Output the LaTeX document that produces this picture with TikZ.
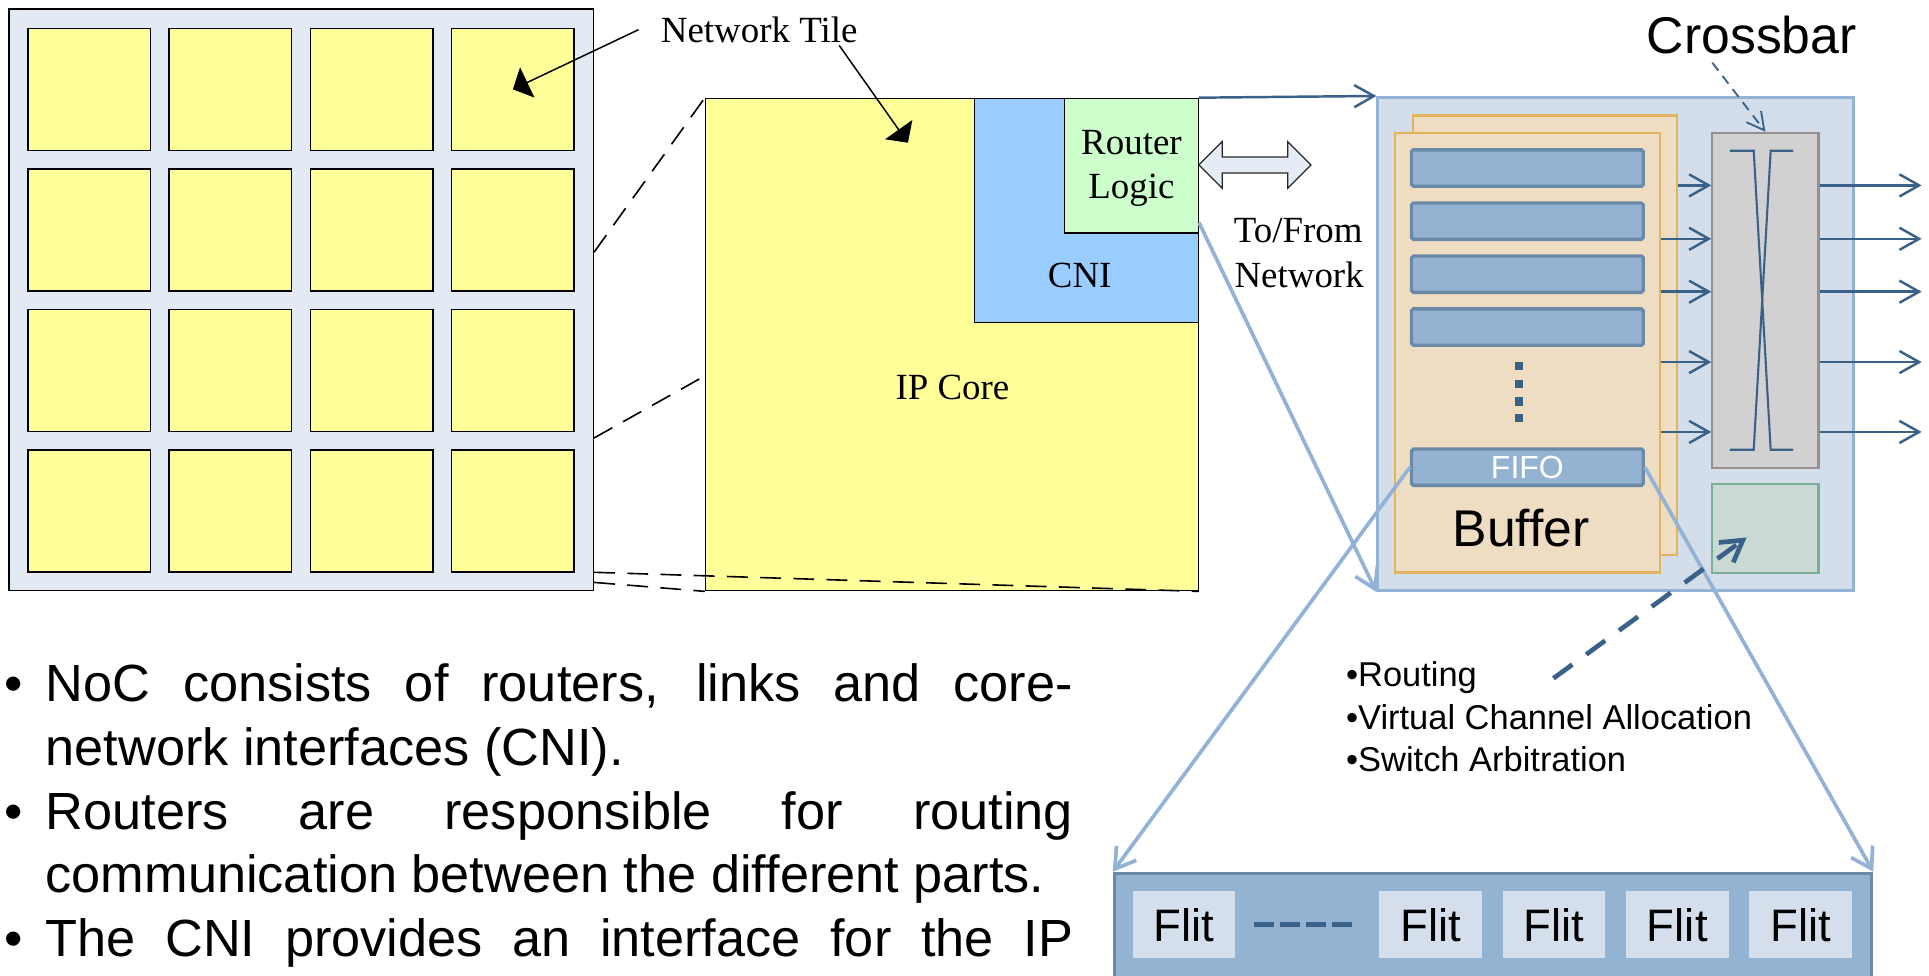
\documentclass[tikz,border=0pt]{standalone}
\usepackage{fontspec}
\setmainfont{Liberation Serif}
\setsansfont{Liberation Sans}
\usetikzlibrary{arrows.meta, positioning, shapes.arrows}

\definecolor{gridbg}{HTML}{E4EAF4}
\definecolor{tileyel}{HTML}{FFFF99}
\definecolor{cniblue}{HTML}{99CCFF}
\definecolor{rlgreen}{HTML}{CCFFCC}
\definecolor{navy}{HTML}{3A6188}
\definecolor{paleblue}{HTML}{93B3D6}
\definecolor{routerbg}{HTML}{D3DEEA}
\definecolor{bufbg}{HTML}{EEDDC3}
\definecolor{bufline}{HTML}{E2B45C}
\definecolor{fifobg}{HTML}{94B3D3}
\definecolor{fifoline}{HTML}{6A8AA8}
\definecolor{xbarbg}{HTML}{D2D1D1}
\definecolor{xbarline}{HTML}{978E8E}
\definecolor{ctrlbg}{HTML}{CAD9D3}
\definecolor{ctrlline}{HTML}{7BAE99}
\definecolor{flitbg}{HTML}{D5DFEB}
\definecolor{linkbg}{HTML}{E6ECF5}

\begin{document}
\begin{tikzpicture}[
        x=1pt, y=-1pt,
        serif/.style={font=\rmfamily\fontsize{30}{36}\selectfont, inner sep=0pt},
        body/.style={font=\sffamily\fontsize{42.5}{51}\selectfont, inner sep=0pt, anchor=base west},
        small/.style={font=\sffamily\fontsize{28}{34}\selectfont, inner sep=0pt, anchor=base west},
        big/.style={font=\sffamily\fontsize{42}{50}\selectfont, inner sep=0pt},
        part/.style={rectangle, draw=black, line width=1.2pt, inner sep=0pt},
        tile/.style={part, fill=tileyel, minimum width=99.5pt, minimum height=99.2pt},
        bufbox/.style={rectangle, draw=bufline, line width=1.8pt, fill=bufbg, minimum width=215pt, minimum height=357.5pt},
        bar/.style={rectangle, draw=fifoline, line width=2.7pt, fill=fifobg, rounded corners=1.5pt, minimum width=188.3pt, minimum height=29.6pt, inner sep=0pt},
        flit/.style={rectangle, fill=flitbg, minimum width=83.3pt, minimum height=54.7pt, inner sep=0pt, font=\sffamily\fontsize{37}{44}\selectfont},
        link/.style={double arrow, draw=black!85, line width=1pt, fill=linkbg, minimum height=91.2pt, minimum width=37pt, double arrow head extend=12.5pt, inner sep=6pt},
        zoomline/.style={draw=black, line width=1.3pt, dash pattern=on 17pt off 10pt},
        callout/.style={draw=black, line width=1.2pt, -{Triangle[length=13pt,width=27pt]}},
        flow/.style={draw=navy, line width=2pt, -{Straight Barb[length=16pt,width=18pt]}},
        pale/.style={draw=paleblue, line width=3pt, -{Straight Barb[length=16pt,width=20pt]}}
    ]
        \useasboundingbox (0,0) rectangle (1568,793);
        \clip (0,0) rectangle (1568,793);

        % mesh of network tiles
        \node[part, fill=gridbg, minimum width=474.8pt, minimum height=472.6pt] (grid) at (244.9,243.8) {};
        \foreach \r in {0,...,3}
            \foreach \c in {0,...,3}
                \node[tile] (t-\r-\c) at (72.45+114.8*\c, 72.6+114.2*\r) {};

        % enlarged tile
        \node[part, fill=tileyel, minimum width=400.4pt, minimum height=400.1pt] (ipcore) at (773.8,280.05) {};
        \node[part, fill=cniblue, minimum width=181.7pt, minimum height=182.1pt] (cni) at (883.15,171.05) {};
        \node[part, fill=rlgreen, minimum width=108.8pt, minimum height=109.3pt] (rl) at (919.6,134.65) {};
        \node[serif, anchor=base] (iplabel) at (774.2,325) {IP Core};
        \node[serif, anchor=base] (cnilabel) at (877.6,233.7) {CNI};
        \node[serif, anchor=base] (rl1) at (919.7,125.5) {Router};
        \node[serif, anchor=base] (rl2) at (919.7,161.2) {Logic};

        \draw[zoomline] (grid.east |- 0,205) -- (ipcore.north west);
        \draw[zoomline] (grid.east |- 0,356) -- (ipcore.west |- 0,305.5);
        \draw[zoomline] (grid.east |- 0,465.2) -- (ipcore.south east);
        \draw[zoomline] (grid.east |- 0,473.4) -- (ipcore.south west);

        \node[serif, anchor=base west] (tilelabel) at (537,34.4) {Network Tile};
        \draw[callout] ([xshift=-18pt]tilelabel.west) -- (t-0-3.center);
        \coordinate (tiletip) at (738,116);
        \draw[callout] ([xshift=-15pt,yshift=-2pt]tilelabel.south east) -- (tiletip);

        \node[link] (link) at (1020.1,134.1) {};
        \node[serif, anchor=base] (tf1) at (1055.2,197.4) {To/From};
        \node[serif, anchor=base] (tf2) at (1056,233.7) {Network};

        % router
        \node[rectangle, draw=paleblue, line width=2.2pt, fill=routerbg, minimum width=386.6pt, minimum height=401pt] (router) at (1313.2,279.6) {};
        \node[bufbox] (bufback) at (1255.9,272.65) {};
        \node[bufbox] (buffront) at (1241.7,286.6) {};
        \foreach \i/\yy in {1/136.6, 2/179.8, 3/222.85, 4/265.85}
            \node[bar] (q\i) at (1241.55,\yy) {};
        \foreach \yy in {297.5, 311.9, 326.4, 339.9}
            \fill[navy] (1231.2,\yy-3.35) rectangle ++(6.7,6.7);
        \node[bar, text=white, font=\sffamily\fontsize{26}{30}\selectfont] (fifo) at (1241.55,379.75) {FIFO};
        \node[big, anchor=base] (buflabel) at (1236.5,444.4) {Buffer};

        \node[rectangle, draw=xbarline, line width=1.8pt, fill=xbarbg, minimum width=86.2pt, minimum height=272.4pt] (xbar) at (1435,244.2) {};
        \node[rectangle, draw=ctrlline, line width=1.8pt, fill=ctrlbg, minimum width=86.7pt, minimum height=72.3pt] (ctrl) at (1434.75,429.85) {};
        \draw[navy, line width=1.7pt] (1406.2,122.5) -- (1425.5,122.5) -- (1439.3,365.6) -- (1457.6,365.6);
        \draw[navy, line width=1.7pt] (1457.6,122.5) -- (1439.3,122.5) -- (1425.5,365.6) -- (1406.2,365.6);

        \node[big, anchor=base west] (xlabel) at (1338.5,43.4) {Crossbar};
        \draw[navy, line width=1.5pt, dash pattern=on 8pt off 5.5pt, -{Straight Barb[length=14pt,width=15pt]}] ([xshift=-32pt,yshift=-7pt]xlabel.south) -- (xbar.north);

        \coordinate (out) at (1562,0);
        \foreach \yy/\src in {150.7/bufback, 194.1/buffront, 237.1/buffront, 294.3/buffront, 351.1/buffront} {
            \draw[flow] (\src.east |- 0,\yy) -- (xbar.west |- 0,\yy);
            \draw[flow] (xbar.east |- 0,\yy) -- (out |- 0,\yy);
        }

        \draw[flow] (ipcore.north east) -- (router.north west);
        \draw[pale] ([yshift=9pt]rl.south east) -- (router.south west);

        % flits of one FIFO
        \node[rectangle, fill=fifobg, draw=fifoline, line width=2.7pt, minimum width=615.5pt, minimum height=100pt, anchor=north west] (flitbar) at (904.5,708.6) {};
        \node[flit] (f1) at (962.45,751.65) {Flit};
        \node[flit] (f2) at (1162.8,751.65) {Flit};
        \node[flit, right=16.6pt of f2] (f3) {Flit};
        \node[flit, right=16.6pt of f3] (f4) {Flit};
        \node[flit, right=16.6pt of f4] (f5) {Flit};
        \draw[navy, line width=3.8pt, dash pattern=on 15.7pt off 5.4pt] ([xshift=15.4pt]f1.east) -- ([xshift=-21.6pt]f2.west);

        \draw[pale] (fifo.west) -- (flitbar.north west);
        \draw[pale] (fifo.east) -- (flitbar.north east);

        % control logic
        \node[small] (r1) at (1094,558.2) {•Routing};
        \node[small] (r2) at ([yshift=-34.5pt]r1.base west) {•Virtual Channel Allocation};
        \node[small] (r3) at ([yshift=-34.5pt]r2.base west) {•Switch Arbitration};
        \coordinate (ctrltail) at (1262.7,551.4);
        \draw[navy, line width=3.8pt, dash pattern=on 19pt off 14pt, -{Straight Barb[length=17pt,width=20pt]}] (ctrltail) -- ([xshift=-15pt,yshift=-7pt]ctrl.center);

        % bullet text
        \node[body] (l1) at (37,570.4) {\makebox[835pt][s]{NoC consists of routers, links and core-}};
        \node[body] (l2) at ([yshift=-51.75pt]l1.base west) {network interfaces (CNI).};
        \node[body] (l3) at ([yshift=-51.75pt]l2.base west) {\makebox[835pt][s]{Routers are responsible for routing}};
        \node[body] (l4) at ([yshift=-51.75pt]l3.base west) {communication between the different parts.};
        \node[body] (l5) at ([yshift=-51.75pt]l4.base west) {\makebox[835pt][s]{The CNI provides an interface for the IP}};
        \foreach \l in {1,3,5}
            \node[body, anchor=base east] (d\l) at ([xshift=-18pt]l\l.base west) {•};
    \end{tikzpicture}
\end{document}
